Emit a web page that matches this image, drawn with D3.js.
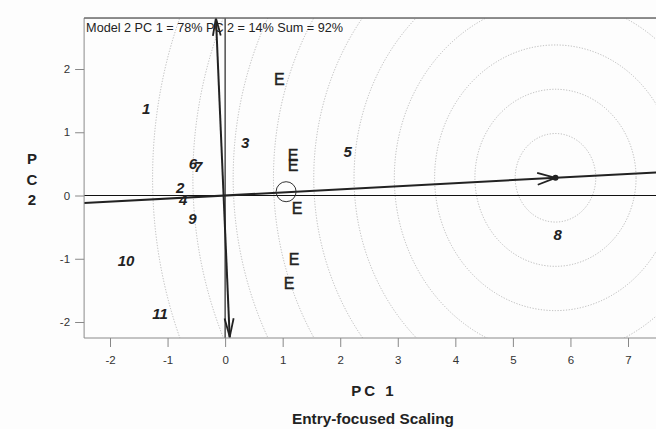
<!DOCTYPE html>
<html>
<head>
<meta charset="utf-8">
<script src="https://cdn.jsdelivr.net/npm/d3@7"></script>
<style>
  body { margin: 0; background: #fdfdfd; }
  text { font-family: "Liberation Sans", Arial, sans-serif; }
</style>
</head>
<body>
<div id="chart"></div>
<script>
// object labels (italic numbers)
const objLabels = ["1", "2", "3", "4", "5", "6", "7", "8", "9", "10", "11"];
const objX = [-1.37, -0.78, 0.35, -0.73, 2.13, -0.56, -0.47, 5.78, -0.57, -1.72, -1.13];
const objY = [1.38, 0.12, 0.83, -0.06, 0.70, 0.50, 0.45, -0.62, -0.36, -1.03, -1.86];

// entry points "E"
const entryX = [0.94, 1.18, 1.18, 1.25, 1.20, 1.11];
const entryY = [1.84, 0.64, 0.48, -0.20, -1.00, -1.38];

// ideal point (open circle)
const idealX = 1.06, idealY = 0.06;

// variable vectors
const vecPC1 = { x1: -2.45, y1: -0.12, x2: 7.8, y2: 0.38, tipX: 5.74, tipY: 0.28 };
const vecUp = { x: -0.16, y: 2.82 };
const vecDown = { x: 0.08, y: -2.25 };

// contour rings around the point
const ringCenter = [5.74, 0.28];
const ringRadii = [0.7, 1.4, 2.1, 2.8, 3.5, 4.2, 4.9, 5.6, 6.3, 7.0];

const xTicks = [-2, -1, 0, 1, 2, 3, 4, 5, 6, 7];
const yTicks = [-2, -1, 0, 1, 2];

const titleText = "Model 2 PC 1 = 78% PC 2 = 14% Sum = 92%";

const W = 656, H = 429;
const svg = d3.select("#chart").append("svg")
  .attr("width", W).attr("height", H);

const x = d3.scaleLinear().domain([-2, 7]).range([110, 628]);
const y = d3.scaleLinear().domain([-2, 2]).range([322, 69]);

const xMin = -2.45, xMax = 8.2, yMin = -2.253, yMax = 2.806;
const pLeft = x(xMin), pRight = x(xMax), pTop = y(yMax), pBottom = y(yMin);

svg.append("defs").append("clipPath").attr("id", "plotclip")
  .append("rect")
  .attr("x", pLeft).attr("y", pTop)
  .attr("width", pRight - pLeft).attr("height", pBottom - pTop);

const plot = svg.append("g").attr("clip-path", "url(#plotclip)");

// rings
plot.selectAll(".ring")
  .data(ringRadii)
  .enter()
  .append("ellipse")
  .attr("class", "ring")
  .attr("cx", x(ringCenter[0]))
  .attr("cy", y(ringCenter[1]))
  .attr("rx", (d) => x(d) - x(0))
  .attr("ry", (d) => y(0) - y(d))
  .attr("fill", "none")
  .attr("stroke", "#a8a8a8")
  .attr("stroke-width", 0.8)
  .attr("stroke-dasharray", "1.2,1.6");

// zero lines
plot.append("line")
  .attr("x1", pLeft).attr("x2", pRight)
  .attr("y1", y(0)).attr("y2", y(0))
  .attr("stroke", "#111").attr("stroke-width", 1.1);
plot.append("line")
  .attr("x1", x(0)).attr("x2", x(0))
  .attr("y1", pTop).attr("y2", pBottom)
  .attr("stroke", "#111").attr("stroke-width", 1.1);

// frame
svg.append("path")
  .attr("d", `M${pRight},${pTop}H${pLeft}V${pBottom}H${pRight}`)
  .attr("fill", "none")
  .attr("stroke", "#8a8a8a")
  .attr("stroke-width", 1);
svg.append("line")
  .attr("x1", pLeft).attr("x2", pRight).attr("y1", pTop).attr("y2", pTop)
  .attr("stroke", "#555").attr("stroke-width", 1);

// vectors
plot.append("line")
  .attr("x1", x(vecPC1.x1)).attr("y1", y(vecPC1.y1))
  .attr("x2", x(vecPC1.x2)).attr("y2", y(vecPC1.y2))
  .attr("stroke", "#222").attr("stroke-width", 2);
plot.append("line")
  .attr("x1", x(vecDown.x)).attr("y1", y(vecDown.y))
  .attr("x2", x(vecUp.x)).attr("y2", y(vecUp.y))
  .attr("stroke", "#222").attr("stroke-width", 2);

function arrowHead(tx, ty, fx, fy, len, ang) {
  const a = Math.atan2(ty - fy, tx - fx);
  [-ang, ang].forEach((s) => {
    plot.append("line")
      .attr("x1", tx).attr("y1", ty)
      .attr("x2", tx - len * Math.cos(a + s))
      .attr("y2", ty - len * Math.sin(a + s))
      .attr("stroke", "#222").attr("stroke-width", 1.8);
  });
}
arrowHead(x(vecPC1.tipX), y(vecPC1.tipY), x(0), y(0), 19, 0.32);
arrowHead(x(vecUp.x), y(vecUp.y) + 1, x(0), y(0), 18, 0.22);
arrowHead(x(vecDown.x), y(vecDown.y) - 1, x(0), y(0), 19, 0.24);

plot.append("circle")
  .attr("cx", x(vecPC1.tipX)).attr("cy", y(vecPC1.tipY))
  .attr("r", 3).attr("fill", "#222");

// ideal point
plot.append("circle")
  .attr("cx", x(idealX)).attr("cy", y(idealY))
  .attr("r", 10)
  .attr("fill", "none").attr("stroke", "#333").attr("stroke-width", 1);

// object numbers
svg.selectAll(".obj")
  .data(objLabels)
  .enter()
  .append("text")
  .attr("class", "obj")
  .attr("x", (d, i) => x(objX[i]))
  .attr("y", (d, i) => y(objY[i]))
  .attr("dy", "0.36em")
  .attr("text-anchor", "middle")
  .style("font-size", "15px")
  .style("font-weight", "bold")
  .style("font-style", "italic")
  .attr("fill", "#222")
  .text((d) => d);

// entries
svg.selectAll(".entry")
  .data(entryX)
  .enter()
  .append("text")
  .attr("class", "entry")
  .attr("x", (d) => x(d))
  .attr("y", (d, i) => y(entryY[i]))
  .attr("dy", "0.36em")
  .attr("text-anchor", "middle")
  .style("font-size", "16px")
  .attr("fill", "#222")
  .attr("stroke", "#222")
  .attr("stroke-width", 0.4)
  .text("E");

// title in plot
svg.append("text")
  .attr("x", pLeft + 2).attr("y", 32)
  .attr("textLength", 257)
  .attr("lengthAdjust", "spacingAndGlyphs")
  .style("font-size", "12.5px")
  .attr("fill", "#222")
  .text(titleText);

// axes
const xAxis = svg.append("g")
  .attr("transform", `translate(0,${pBottom})`)
  .call(d3.axisBottom(x).tickValues(xTicks).tickSize(9).tickPadding(9).tickFormat((d) => String(d)));
const yAxis = svg.append("g")
  .attr("transform", `translate(${pLeft},0)`)
  .call(d3.axisLeft(y).tickValues(yTicks).tickSize(9).tickPadding(5).tickFormat((d) => String(d)));
[xAxis, yAxis].forEach((g) => {
  g.select(".domain").remove();
  g.selectAll("line").attr("stroke", "#888");
  g.selectAll("text")
    .style("font-family", "'Liberation Sans', Arial, sans-serif")
    .style("font-size", "11.5px")
    .attr("fill", "#333");
});

// axis titles
svg.append("text")
  .attr("x", 374).attr("y", 396)
  .attr("text-anchor", "middle")
  .style("font-size", "15px")
  .style("font-weight", "bold")
  .style("letter-spacing", "3px")
  .attr("fill", "#222")
  .text("PC 1");

["P", "C", "2"].forEach((t, i) => {
  svg.append("text")
    .attr("x", 32).attr("y", 164 + i * 20.5)
    .attr("text-anchor", "middle")
    .style("font-size", "15px")
    .style("font-weight", "bold")
    .attr("fill", "#222")
    .text(t);
});

svg.append("text")
  .attr("x", 373).attr("y", 424)
  .attr("text-anchor", "middle")
  .attr("textLength", 162)
  .attr("lengthAdjust", "spacingAndGlyphs")
  .style("font-size", "15px")
  .style("font-weight", "bold")
  .attr("fill", "#222")
  .text("Entry-focused Scaling");
</script>
</body>
</html>
